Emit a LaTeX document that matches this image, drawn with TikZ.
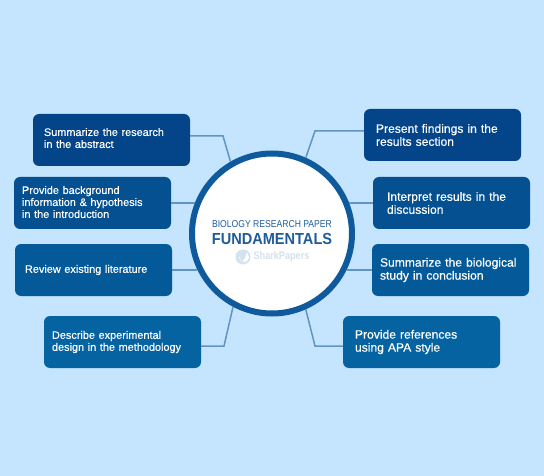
\documentclass[tikz,border=0pt]{standalone}
\usepackage{fontspec}
\setmainfont{Liberation Sans}
\newfontfamily\cardfont[FakeBold=0.35]{Liberation Sans}
\newfontfamily\subtitlefont[FakeStretch=0.86]{Liberation Sans}
\newfontfamily\titlefont[FakeStretch=0.91]{Liberation Sans Bold}
\newfontfamily\brandfont[FakeStretch=0.83]{Liberation Sans Bold}
\usepackage{tikz}
\usepackage{xcolor}
\usetikzlibrary{arrows.meta,positioning,shapes,calc}
\definecolor{paper}{HTML}{C5E4FE}
\definecolor{ringblue}{HTML}{0F5A9C}
\definecolor{linkblue}{HTML}{5F95C2}
\definecolor{inkblue}{HTML}{1F5C99}
\definecolor{faintblue}{HTML}{D3E2EE}
\definecolor{cardA}{HTML}{04458A}
\definecolor{cardB}{HTML}{045090}
\definecolor{cardC}{HTML}{045A98}
\definecolor{cardD}{HTML}{0563A1}
\tikzset{
  card/.style={fill=#1,rounded corners=6pt,text=white,align=left,
               minimum width=157pt,minimum height=52pt,inner ysep=0pt},
  leftcard/.style 2 args={card=#1,inner xsep=#2,text width=157pt-2*#2,
               font=\cardfont\fontsize{10.9}{12}\selectfont},
  rightcard/.style 2 args={card=#1,inner xsep=#2,text width=157pt-2*#2,
               font=\cardfont\fontsize{12.1}{13}\selectfont},
  hub/.style={circle,draw=ringblue,fill=white,line width=6pt,
              minimum size=160pt,inner sep=0pt},
  link/.style={draw=linkblue,line width=1.5pt}
}
\begin{document}
\begin{tikzpicture}[x=1pt,y=-1pt]
      \useasboundingbox[fill=paper] (0,0) rectangle (544,476);
      \node[hub] (center) at (272,233.5) {};
      \node[font=\subtitlefont\fontsize{10}{11}\selectfont,text=inkblue] (subtitle) at (272,224) {BIOLOGY RESEARCH PAPER};
      \node[font=\titlefont\fontsize{16}{18}\selectfont,text=inkblue] (title) at (272,239) {FUNDAMENTALS};
      \node[font=\brandfont\fontsize{11}{13}\selectfont,text=faintblue] (brand) at (281.5,257) {SharkPapers};
      \fill[faintblue] (243,257) circle (7.5pt);
      \fill[white] (244,257) circle (5pt);
      \fill[faintblue] (235,254) -- (247,250.5) -- (245,258) -- (241,262) -- (240,257) -- cycle;

      % left side
      \node[leftcard={cardA}{11pt},text depth=16pt] (abstract) at (111.5,140) {Summarize the research\\in the abstract};
      \node[leftcard={cardB}{8pt},text depth=26pt] (intro) at (92.5,203) {Provide background\\information \& hypothesis\\in the introduction};
      \node[leftcard={cardC}{10pt}] (literature) at (93.5,270) {Review existing literature};
      \node[leftcard={cardD}{8pt}] (method) at (122.5,342) {Describe experimental\\design in the methodology};

      % right side
      \node[rightcard={cardA}{12pt}] (results) at (442.5,135) {Present findings in the\\results section};
      \node[rightcard={cardB}{14pt}] (discussion) at (451.5,203) {Interpret results in the\\discussion};
      \node[rightcard={cardC}{8pt}] (conclusion) at (450.5,270) {Summarize the biological\\study in conclusion};
      \node[rightcard={cardD}{12pt}] (references) at (421.5,342) {Provide references\\using APA style};

      \coordinate (bendA) at (223,136);
      \coordinate (bendD) at (224,346);
      \coordinate (bendE) at (315,131);
      \coordinate (bendH) at (315,346);

      \draw[link] (bendA -| abstract.east) -- (bendA) -- (center.120);
      \draw[link] (intro.east) -- (intro.east -| center.158.4);
      \draw[link] (literature.east) -- (literature.east -| center.206.1);
      \draw[link] (bendD -| method.east) -- (bendD) -- (center.242);
      \draw[link] (bendE -| results.west) -- (bendE) -- (center.66);
      \draw[link] (discussion.west) -- (discussion.west -| center.21.6);
      \draw[link] (conclusion.west) -- (conclusion.west -| center.-26.1);
      \draw[link] (bendH -| references.west) -- (bendH) -- (center.-66);
    \end{tikzpicture}
\end{document}
